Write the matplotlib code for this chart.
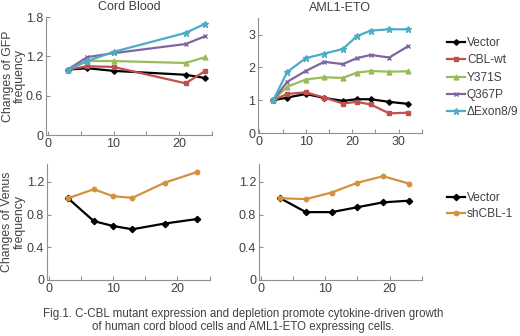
import matplotlib
matplotlib.use("Agg")
import matplotlib.pyplot as plt
from matplotlib.ticker import MultipleLocator

plt.rcParams['font.family'] = ['Liberation Sans', 'DejaVu Sans']

# ---- data ----
cb_days = [3, 6, 10, 21, 24]
cb_vector = [1.0, 1.02, 0.98, 0.92, 0.87]
cb_cblwt = [1.0, 1.05, 1.04, 0.79, 0.98]
cb_y371s = [1.0, 1.13, 1.13, 1.10, 1.19]
cb_q367p = [1.0, 1.19, 1.25, 1.39, 1.51]
cb_dexon = [1.0, 1.13, 1.27, 1.56, 1.70]

aml_days = [3, 6, 10, 14, 18, 21, 24, 28, 32]
aml_vector = [1.0, 1.08, 1.19, 1.07, 0.98, 1.03, 1.03, 0.95, 0.89]
aml_cblwt = [1.0, 1.19, 1.24, 1.08, 0.90, 0.95, 0.87, 0.60, 0.62]
aml_y371s = [1.0, 1.41, 1.63, 1.70, 1.68, 1.84, 1.89, 1.87, 1.88]
aml_q367p = [1.0, 1.56, 1.89, 2.17, 2.10, 2.28, 2.38, 2.30, 2.64]
aml_dexon = [1.0, 1.86, 2.28, 2.42, 2.56, 2.95, 3.12, 3.16, 3.16]

cbv_days = [3, 7, 10, 13, 18, 23]
cbv_vector = [1.0, 0.72, 0.66, 0.62, 0.69, 0.745]
cbv_shcbl = [1.0, 1.11, 1.025, 1.005, 1.19, 1.32]

amlv_days = [3, 7, 11, 15, 19, 23]
amlv_vector = [1.0, 0.83, 0.83, 0.89, 0.95, 0.97]
amlv_shcbl = [1.0, 0.99, 1.07, 1.19, 1.27, 1.18]

gfp_labels = ['Vector', 'CBL-wt', 'Y371S', 'Q367P', '\u0394Exon8/9']
venus_labels = ['Vector', 'shCBL-1']

colors = ['#000000', '#c0504d', '#9bbb59', '#8064a2', '#4bacc6']
markers = ['D', 's', '^', 'x', '*']
msizes = [2.8, 3.5, 3.5, 3.5, 4.5]
venus_colors = ['#000000', '#d4913f']

text_color = '#404040'
spine_color = '#909090'
fs = 9

fig = plt.figure(figsize=(5.2, 3.36), dpi=100)

def style(ax, xmax, xticks, ymax, yticks):
    for s in ['top', 'right']:
        ax.spines[s].set_visible(False)
    for s in ['left', 'bottom']:
        ax.spines[s].set_color(spine_color)
        ax.spines[s].set_linewidth(0.8)
    ax.set_xlim(-0.3, xmax)
    ax.set_ylim(0, ymax)
    ax.set_xticks(xticks)
    ax.xaxis.set_minor_locator(MultipleLocator(5))
    ax.set_yticks(yticks)
    ax.tick_params(direction='in', length=3, width=0.8, color=spine_color,
                   labelsize=fs, labelcolor=text_color, pad=2)
    ax.tick_params(which='minor', direction='in', length=3, width=0.8, color=spine_color)

ax1 = fig.add_axes([0.0885, 0.598, 0.319, 0.351])
ax2 = fig.add_axes([0.496, 0.604, 0.315, 0.342])
ax3 = fig.add_axes([0.090, 0.167, 0.313, 0.345])
ax4 = fig.add_axes([0.498, 0.167, 0.313, 0.345])

for ys, c, m, ms, lab in zip([cb_vector, cb_cblwt, cb_y371s, cb_q367p, cb_dexon],
                             colors, markers, msizes, gfp_labels):
    ax1.plot(cb_days, ys, color=c, marker=m, ms=ms, lw=1.6, label=lab, mew=1.0)
for ys, c, m, ms, lab in zip([aml_vector, aml_cblwt, aml_y371s, aml_q367p, aml_dexon],
                             colors, markers, msizes, gfp_labels):
    ax2.plot(aml_days, ys, color=c, marker=m, ms=ms, lw=1.6, label=lab, mew=1.0)
for ys, c, m, lab in zip([cbv_vector, cbv_shcbl], venus_colors, ['D', 'o'], venus_labels):
    ax3.plot(cbv_days, ys, color=c, marker=m, ms=3.2, lw=1.6, label=lab)
for ys, c, m, lab in zip([amlv_vector, amlv_shcbl], venus_colors, ['D', 'o'], venus_labels):
    ax4.plot(amlv_days, ys, color=c, marker=m, ms=3.2, lw=1.6, label=lab)

style(ax1, 25, [0, 10, 20], 1.8, [0, 0.6, 1.2, 1.8])
ax1.set_yticklabels(['0', '0.6', '1.2', '1.8'])
style(ax2, 35, [0, 10, 20, 30], 3.5, [0, 1, 2, 3])
style(ax3, 25, [0, 10, 20], 1.42, [0, 0.4, 0.8, 1.2])
ax3.set_yticklabels(['0', '0.4', '0.8', '1.2'])
style(ax4, 25, [0, 10, 20], 1.42, [0, 0.4, 0.8, 1.2])
ax4.set_yticklabels(['0', '0.4', '0.8', '1.2'])

ax1.set_title('Cord Blood', fontsize=fs, color=text_color, pad=5)
ax2.set_title('AML1-ETO', fontsize=fs, color=text_color, pad=5)
ax1.set_ylabel('Changes of GFP\nfrequency', fontsize=8.8, color=text_color, linespacing=1.05)
ax3.set_ylabel('Changes of Venus\nfrequency', fontsize=8.8, color=text_color, linespacing=1.05)
ax1.yaxis.set_label_coords(-0.12, 0.5)
ax3.yaxis.set_label_coords(-0.13, 0.5)

leg1 = ax2.legend(loc='upper left', bbox_to_anchor=(0.86, 0.89), bbox_transform=fig.transFigure,
                  frameon=False, fontsize=8.6, handlelength=1.45, handletextpad=0.2,
                  labelspacing=0.45, borderpad=0, borderaxespad=0)
for t in leg1.get_texts():
    t.set_color(text_color)
leg2 = ax4.legend(loc='upper left', bbox_to_anchor=(0.86, 0.428), bbox_transform=fig.transFigure,
                  frameon=False, fontsize=8.6, handlelength=1.45, handletextpad=0.2,
                  labelspacing=0.33, borderpad=0, borderaxespad=0)
for t in leg2.get_texts():
    t.set_color(text_color)

fig.text(0.468, 0.045,
         'Fig.1. C-CBL mutant expression and depletion promote cytokine-driven growth\n'
         'of human cord blood cells and AML1-ETO expressing cells.',
         ha='center', va='center', fontsize=8.3, color=text_color, linespacing=1.1)

fig.savefig('out.png', dpi=100)
